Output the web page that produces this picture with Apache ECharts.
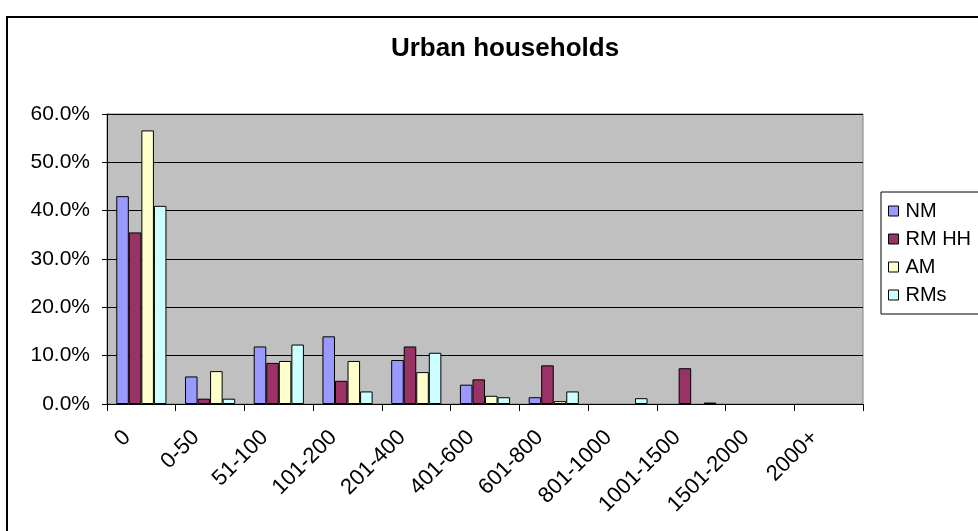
<!DOCTYPE html>
<html>
<head>
<meta charset="utf-8">
<script src="https://cdn.jsdelivr.net/npm/echarts@6/dist/echarts.min.js"></script>
<style>
html,body{margin:0;padding:0;background:#fff;}
#chart{width:978px;height:531px;}
</style>
</head>
<body>
<div id="chart"></div>
<script>
var categories = ['0','0-50','51-100','101-200','201-400','401-600','601-800','801-1000','1001-1500','1501-2000','2000+'];
var seriesNames = ['NM','RM HH','AM','RMs'];
var nmValues   = [43.0, 5.7, 11.9, 14.0, 9.1, 4.0, 1.4, 0, 0, 0, 0];
var rmhhValues = [35.5, 1.1, 8.5, 4.8, 11.9, 5.1, 8.0, 0, 7.4, 0, 0];
var amValues   = [56.6, 6.8, 8.9, 8.9, 6.6, 1.7, 0.6, 0, 0, 0, 0];
var rmsValues  = [41.0, 1.1, 12.3, 2.6, 10.6, 1.4, 2.6, 1.2, 0.3, 0, 0];
var yTicks = [0, 10, 20, 30, 40, 50, 60];
var colors = ['#9999FF','#993366','#FFFFCC','#CCFFFF'];

var font = '"Liberation Sans", Arial, sans-serif';
var allValues = [nmValues, rmhhValues, amValues, rmsValues];

var chart = echarts.init(document.getElementById('chart'));
var series = seriesNames.map(function(n, i){
  return {
    name: n,
    type: 'bar',
    // zero-height bars are not drawn in the original
    data: allValues[i].map(function(v){ return v === 0 ? '-' : v; }),
    barGap: '0%',
    barCategoryGap: '27%',
    itemStyle: { color: colors[i], borderColor: '#000', borderWidth: 1 },
    emphasis: { disabled: true },
    animation: false
  };
});

chart.setOption({
  animation: false,
  color: colors,
  graphic: [{
    type: 'rect',
    shape: { x: 7, y: 17, width: 990, height: 540 },
    style: { fill: 'none', stroke: '#000', lineWidth: 2 },
    silent: true,
    z: -10
  }],
  title: {
    text: 'Urban households',
    left: 500,
    textAlign: 'center',
    top: 31,
    textStyle: { fontFamily: font, fontSize: 26, fontWeight: 'bold', color: '#000' }
  },
  legend: {
    orient: 'vertical',
    left: 881,
    top: 192,
    padding: [9, 40, 9, 7],
    itemGap: 8,
    itemWidth: 10,
    itemHeight: 10,
    icon: 'rect',
    borderColor: '#000',
    borderWidth: 1,
    itemStyle: { borderColor: '#000', borderWidth: 1 },
    textStyle: { fontFamily: font, fontSize: 20, color: '#000', lineHeight: 20, padding: [0, 0, 0, 2] },
    data: seriesNames
  },
  grid: {
    left: 107, right: 115, top: 114, bottom: 127,
    show: true,
    backgroundColor: '#C0C0C0',
    borderColor: '#808080',
    borderWidth: 1
  },
  xAxis: {
    type: 'category',
    data: categories,
    boundaryGap: true,
    axisLine: { lineStyle: { color: '#000', width: 1 } },
    axisTick: { show: true, length: 7, lineStyle: { color: '#000' } },
    axisLabel: {
      rotate: 45,
      interval: 0,
      margin: 16,
      padding: [0, 20, 0, 0],
      fontFamily: font,
      fontSize: 22,
      color: '#000'
    },
    splitLine: { show: false }
  },
  yAxis: {
    type: 'value',
    min: yTicks[0],
    max: yTicks[yTicks.length - 1],
    interval: 10,
    axisLine: { show: true, lineStyle: { color: '#000', width: 1 } },
    axisTick: { show: true, length: 5, lineStyle: { color: '#000' } },
    axisLabel: {
      margin: 17,
      fontFamily: font,
      fontSize: 21,
      color: '#000',
      formatter: function(v){ return v.toFixed(1) + '%'; }
    },
    splitLine: { show: true, lineStyle: { color: '#000', width: 1 } }
  },
  series: series
});
</script>
</body>
</html>
